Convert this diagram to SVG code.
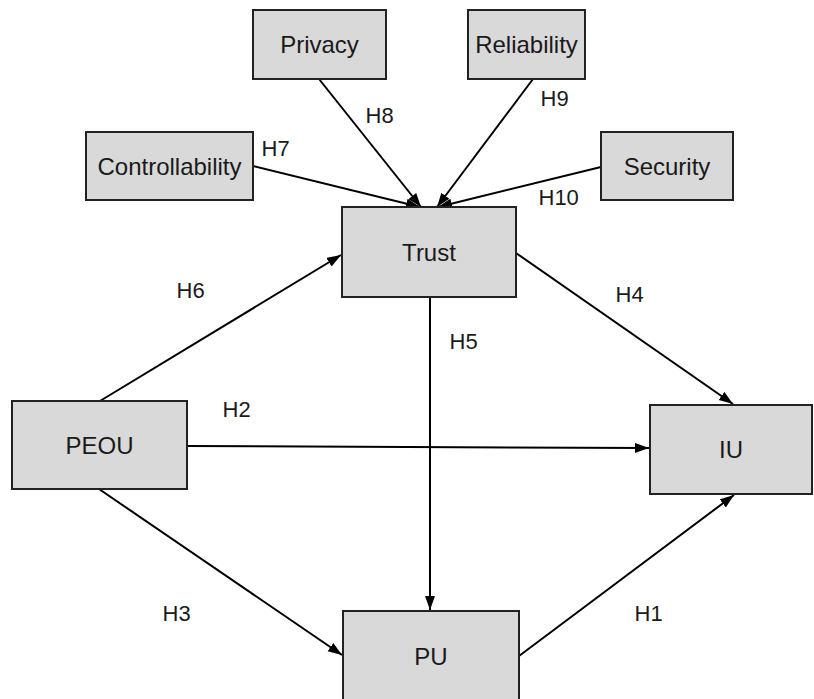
<svg xmlns="http://www.w3.org/2000/svg" width="814" height="699" viewBox="0 0 814 699">
  <style>
    .box { fill: #d9d9d9; stroke: #222; stroke-width: 2; }
    .name { font-family: "Liberation Sans", Arial, sans-serif; font-size: 24px; fill: #1a1a1a; text-anchor: middle; }
    .hyp { font-family: "Liberation Sans", Arial, sans-serif; font-size: 22px; fill: #1a1a1a; }
    .link { stroke: #000; stroke-width: 2; fill: none; marker-end: url(#head); }
  </style>
  <defs>
    <marker id="head" markerUnits="userSpaceOnUse" markerWidth="15" markerHeight="11" refX="14" refY="5" orient="auto">
      <path d="M0,0 L14,5 L0,10 z" fill="#000"/>
    </marker>
  </defs>
  <rect width="814" height="699" fill="#fff"/>

  <g id="connectors">
    <line class="link" x1="319" y1="79" x2="421" y2="207"/>
    <line class="link" x1="533" y1="79" x2="437" y2="207"/>
    <line class="link" x1="253" y1="166" x2="420" y2="207"/>
    <line class="link" x1="601" y1="167" x2="438" y2="207"/>
    <line class="link" x1="100" y1="401" x2="341" y2="255"/>
    <line class="link" x1="187" y1="446" x2="649" y2="448"/>
    <line class="link" x1="99" y1="489" x2="342" y2="655"/>
    <line class="link" x1="430" y1="297" x2="430" y2="610"/>
    <line class="link" x1="516" y1="253" x2="733" y2="404"/>
    <line class="link" x1="519" y1="656" x2="734" y2="495"/>
  </g>

  <g id="privacy">
    <rect class="box" x="253" y="10" width="133" height="69"/>
    <text class="name" x="319.5" y="53">Privacy</text>
  </g>
  <g id="reliability">
    <rect class="box" x="468" y="10" width="117" height="69"/>
    <text class="name" x="526.5" y="53">Reliability</text>
  </g>
  <g id="controllability">
    <rect class="box" x="86" y="132" width="167" height="68"/>
    <text class="name" x="169.5" y="175">Controllability</text>
  </g>
  <g id="security">
    <rect class="box" x="601" y="132" width="132" height="68"/>
    <text class="name" x="667" y="175">Security</text>
  </g>
  <g id="trust">
    <rect class="box" x="342" y="207" width="174" height="90"/>
    <text class="name" x="429" y="261">Trust</text>
  </g>
  <g id="peou">
    <rect class="box" x="12" y="401" width="175" height="88"/>
    <text class="name" x="99.5" y="454">PEOU</text>
  </g>
  <g id="iu">
    <rect class="box" x="650" y="405" width="162" height="89"/>
    <text class="name" x="731" y="458">IU</text>
  </g>
  <g id="pu">
    <rect class="box" x="343" y="611" width="176" height="110"/>
    <text class="name" x="431" y="665">PU</text>
  </g>

  <g id="hypotheses">
    <text class="hyp" x="365.5" y="122.5">H8</text>
    <text class="hyp" x="540.5" y="106">H9</text>
    <text class="hyp" x="261.5" y="156">H7</text>
    <text class="hyp" x="538.5" y="205">H10</text>
    <text class="hyp" x="176.5" y="298">H6</text>
    <text class="hyp" x="615.5" y="302">H4</text>
    <text class="hyp" x="449.5" y="349">H5</text>
    <text class="hyp" x="222.5" y="417">H2</text>
    <text class="hyp" x="162.5" y="621">H3</text>
    <text class="hyp" x="634.5" y="621">H1</text>
  </g>
</svg>
